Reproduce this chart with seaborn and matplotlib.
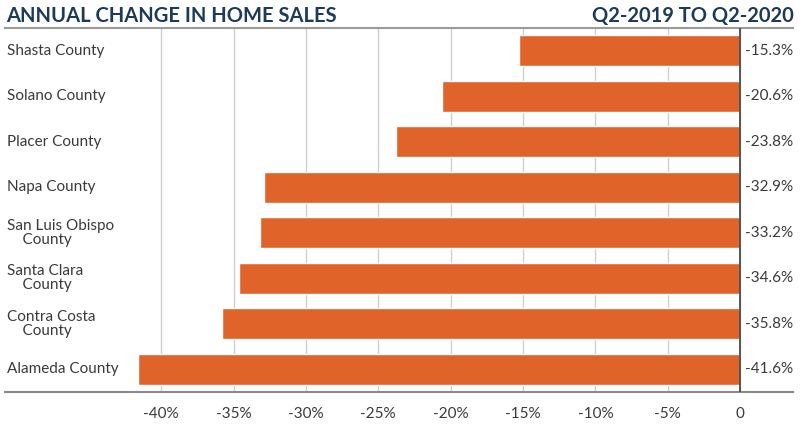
import matplotlib
matplotlib.use("Agg")
import matplotlib.pyplot as plt
import matplotlib.transforms as mtransforms
import seaborn as sns
import pandas as pd

counties = ["Shasta County", "Solano County", "Placer County", "Napa County",
            "San Luis Obispo\n    County", "Santa Clara\n    County",
            "Contra Costa\n    County", "Alameda County"]
changes = [-15.3, -20.6, -23.8, -32.9, -33.2, -34.6, -35.8, -41.6]
tick_values = [-40, -35, -30, -25, -20, -15, -10, -5, 0]
tick_labels = ["-40%", "-35%", "-30%", "-25%", "-20%", "-15%", "-10%", "-5%", "0"]

BAR = "#E0642A"
NAVY = "#1B3A5C"
TEXT = "#3a3a3a"

sns.set_theme(style="white")
plt.rcParams["font.family"] = ["Lato", "DejaVu Sans"]

df = pd.DataFrame({"county": counties, "change": changes})

fig = plt.figure(figsize=(8, 4.37), dpi=100)
ax = fig.add_axes([5 / 800, 45 / 437, 788 / 800, 364 / 437])

sns.barplot(data=df, x="change", y="county", orient="h", color=BAR,
            saturation=1, width=0.68, ax=ax, zorder=3)

ax.set_xlim(-50.8, 3.66)
ax.set_ylim(7.5, -0.5)
ax.set_xticks(tick_values)
ax.set_xticklabels(tick_labels, fontsize=11, color=TEXT)
ax.set_yticks([])
ax.set_xlabel("")
ax.set_ylabel("")

ax.grid(axis="x", color="#cfcfcf", linewidth=1, zorder=0)
ax.tick_params(axis="x", direction="out", length=6, width=1, color="#bbbbbb", pad=5)
ax.axvline(0, color="#555555", linewidth=1.4, zorder=4)

for side in ("left", "right"):
    ax.spines[side].set_visible(False)
ax.spines["top"].set_color("#9a9a9a")
ax.spines["top"].set_linewidth(1.5)
ax.spines["bottom"].set_color("#8a8a8a")
ax.spines["bottom"].set_linewidth(1.5)

trans = mtransforms.blended_transform_factory(ax.transAxes, ax.transData)
for i, (name, val) in enumerate(zip(counties, changes)):
    ax.text(0.002, i, name, transform=trans, ha="left", va="center",
            fontsize=11, color=TEXT, linespacing=1.0)
    ax.text(0.35, i, f"{val:.1f}%", ha="left", va="center",
            fontsize=11, color=TEXT)

fig.text(6 / 800, 1 - 16 / 437, "ANNUAL CHANGE IN HOME SALES", ha="left",
         va="center", fontsize=14.5, fontweight="bold", color=NAVY)
fig.text(794 / 800, 1 - 16 / 437, "Q2-2019 TO Q2-2020", ha="right",
         va="center", fontsize=14.5, fontweight="bold", color=NAVY)

fig.savefig("out.png", dpi=100)
